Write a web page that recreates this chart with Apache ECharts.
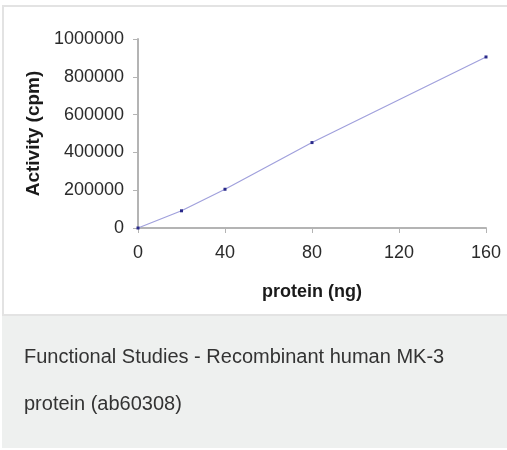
<!DOCTYPE html>
<html>
<head>
<meta charset="utf-8">
<script src="https://cdn.jsdelivr.net/npm/echarts@6/dist/echarts.min.js"></script>
<style>
html,body{margin:0;padding:0;background:#fff;}
#chart{width:507px;height:450px;}
</style>
</head>
<body>
<div id="chart"></div>
<script>
const proteinNg = [0, 20, 40, 80, 160];
const activityCpm = [0, 91000, 205000, 452000, 905000];
const xTicks = [0, 40, 80, 120, 160];
const yTicks = [0, 200000, 400000, 600000, 800000, 1000000];
const xTitle = 'protein (ng)';
const yTitle = 'Activity (cpm)';
const captionLines = ['Functional Studies - Recombinant human MK-3', 'protein (ab60308)'];

const chart = echarts.init(document.getElementById('chart'), null, {renderer: 'canvas'});
const labelFont = {fontFamily: 'Liberation Sans, Arial, sans-serif', fontSize: 18, color: '#2a2a2a'};
const nameFont = {fontFamily: 'Liberation Sans, Arial, sans-serif', fontWeight: 'bold', color: '#1a1a1a'};

chart.setOption({
  animation: false,
  backgroundColor: '#ffffff',
  graphic: [
    {type: 'rect', z: -10, silent: true, shape: {x: 3, y: 6, width: 510, height: 309},
     style: {fill: '#ffffff', stroke: '#e3e3e3', lineWidth: 2}},
    {type: 'rect', z: -10, silent: true, shape: {x: 2, y: 316, width: 510, height: 132},
     style: {fill: '#eef0ef'}},
    {type: 'text', left: 24, top: 347, silent: true,
     style: {text: captionLines[0], font: '20px "Liberation Sans", Arial, sans-serif', fill: '#333333'}},
    {type: 'text', left: 24, top: 394, silent: true,
     style: {text: captionLines[1], font: '20px "Liberation Sans", Arial, sans-serif', fill: '#333333'}}
  ],
  grid: {left: 138, right: 21, top: 39, bottom: 222, containLabel: false},
  xAxis: {
    type: 'value', min: xTicks[0], max: xTicks[xTicks.length - 1], interval: 40,
    name: xTitle, nameLocation: 'middle', nameGap: 55,
    nameTextStyle: Object.assign({fontSize: 18}, nameFont),
    axisLine: {show: true, onZero: false, lineStyle: {color: '#b4b4b4', width: 2}},
    axisTick: {show: true, inside: false, length: 5, lineStyle: {color: '#b4b4b4', width: 1}},
    axisLabel: Object.assign({margin: 16, formatter: v => String(v)}, labelFont),
    splitLine: {show: false}
  },
  yAxis: {
    type: 'value', min: yTicks[0], max: yTicks[yTicks.length - 1], interval: 200000,
    name: yTitle, nameLocation: 'middle', nameGap: 93,
    nameTextStyle: Object.assign({fontSize: 19}, nameFont),
    axisLine: {show: true, onZero: false, lineStyle: {color: '#b4b4b4', width: 2}},
    axisTick: {show: true, inside: false, length: 5, lineStyle: {color: '#b4b4b4', width: 1}},
    axisLabel: Object.assign({margin: 14, formatter: v => String(v)}, labelFont),
    splitLine: {show: false}
  },
  series: [{
    type: 'line',
    data: proteinNg.map((x, i) => [x, activityCpm[i]]),
    symbol: 'rect', symbolSize: 3, showSymbol: true,
    lineStyle: {color: '#a0a0dc', width: 1.2},
    itemStyle: {color: '#2a2a8a'},
    z: 5
  }]
});
</script>
</body>
</html>
